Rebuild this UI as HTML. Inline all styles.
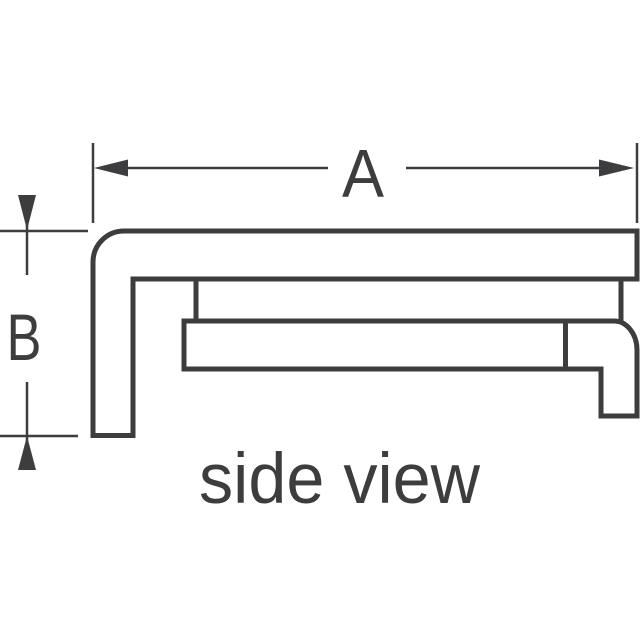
<!DOCTYPE html>
<html>
<head>
<meta charset="utf-8">
<style>
  html, body { margin: 0; padding: 0; background: #ffffff; }
  svg { display: block; }
  text { font-family: "Liberation Sans", "DejaVu Sans", sans-serif; fill: #3d3d3f; }
</style>
</head>
<body>
<svg width="640" height="640" viewBox="0 0 640 640" xmlns="http://www.w3.org/2000/svg">
  <rect x="0" y="0" width="640" height="640" fill="#ffffff"/>
  <g stroke="#3d3d3f" fill="none">
    <!-- Dimension A -->
    <line x1="93" y1="143" x2="93" y2="223" stroke-width="2.5"/>
    <line x1="637" y1="143" x2="637" y2="223" stroke-width="2.5"/>
    <line x1="110" y1="168" x2="328" y2="168" stroke-width="2.5"/>
    <line x1="406" y1="168" x2="615" y2="168" stroke-width="2.5"/>

    <!-- Dimension B -->
    <line x1="0" y1="231" x2="88" y2="231" stroke-width="2.5"/>
    <line x1="27" y1="200" x2="27" y2="275" stroke-width="2.5"/>
    <line x1="0" y1="436" x2="78" y2="436" stroke-width="2.5"/>
    <line x1="27" y1="382" x2="27" y2="465" stroke-width="2.5"/>

    <!-- Outer L + top bar -->
    <path d="M 637 231 L 124 231 A 31 31 0 0 0 93 262 L 93 435.5 L 133 435.5 L 133 279 L 637 279 Z" stroke-width="5" stroke-linejoin="miter"/>
    <!-- Small verticals -->
    <line x1="196" y1="279" x2="196" y2="321" stroke-width="5"/>
    <line x1="621" y1="279" x2="621" y2="321" stroke-width="5"/>
    <!-- Lower part with hook -->
    <path d="M 184 321 L 614 321 A 23 29 0 0 1 637 350 L 637 416 L 601 416 L 601 369 L 184 369 Z" stroke-width="5" stroke-linejoin="miter"/>
    <line x1="565.5" y1="321" x2="565.5" y2="369" stroke-width="5"/>
  </g>
  <!-- Arrowheads -->
  <g fill="#3d3d3f">
    <polygon points="94,168 128,159.5 128,176.5"/>
    <polygon points="634,168 599,159.5 599,176.5"/>
    <polygon points="27,230 18,195 36,195"/>
    <polygon points="27,436 18,470 36,470"/>
  </g>
  <!-- Labels -->
  <text x="363" y="196.5" font-size="68" text-anchor="middle" textLength="42" lengthAdjust="spacingAndGlyphs">A</text>
  <text x="24" y="360" font-size="66" text-anchor="middle" textLength="35" lengthAdjust="spacingAndGlyphs">B</text>
  <text x="199" y="503" font-size="71" textLength="281" lengthAdjust="spacingAndGlyphs">side view</text>
</svg>
</body>
</html>
